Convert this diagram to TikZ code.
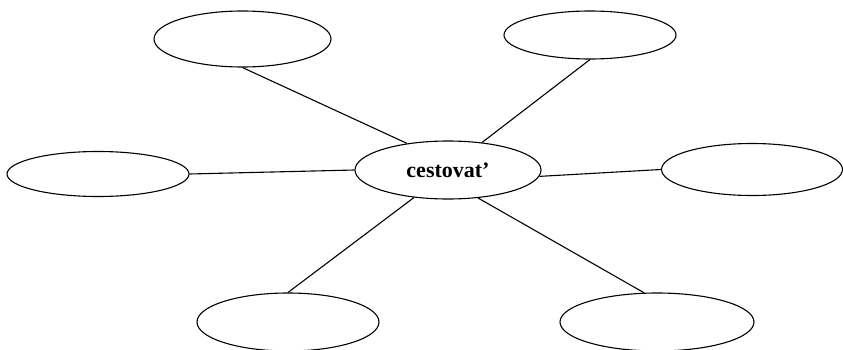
\documentclass[tikz,border=0pt]{standalone}
\usepackage{fontspec}
\setmainfont{Liberation Serif}
\usetikzlibrary{shapes.geometric}
\begin{document}
\begin{tikzpicture}[x=1pt,y=1pt,
  bubble/.style={draw=black, line width=1.1pt, ellipse, inner sep=0pt},
  link/.style={draw=black, line width=1.1pt}]
\useasboundingbox (0,0) rectangle (843,349);
\node[bubble, minimum width=186pt, minimum height=58pt,
      font=\fontsize{22}{26}\selectfont\bfseries] (c) at (448,179) {cestovat’};
\node[bubble, minimum width=177pt, minimum height=56pt] (tl) at (242.5,310) {};
\node[bubble, minimum width=172pt, minimum height=48pt] (tr) at (590,314) {};
\node[bubble, minimum width=182pt, minimum height=45pt] (l) at (98,175) {};
\node[bubble, minimum width=181pt, minimum height=52pt] (r) at (752,179.5) {};
\node[bubble, minimum width=182pt, minimum height=58pt] (bl) at (288,27) {};
\node[bubble, minimum width=194pt, minimum height=58pt] (br) at (657,27) {};
\draw[link] (tl.south) -- (c.147);
\draw[link] (tr.south) -- (c.39);
\draw[link] (l.east) -- (c.west);
\draw[link] (c.-4) -- (r.west);
\draw[link] (bl.north) -- (c.219);
\draw[link] (br.114) -- (c.-43);
\end{tikzpicture}
\end{document}
